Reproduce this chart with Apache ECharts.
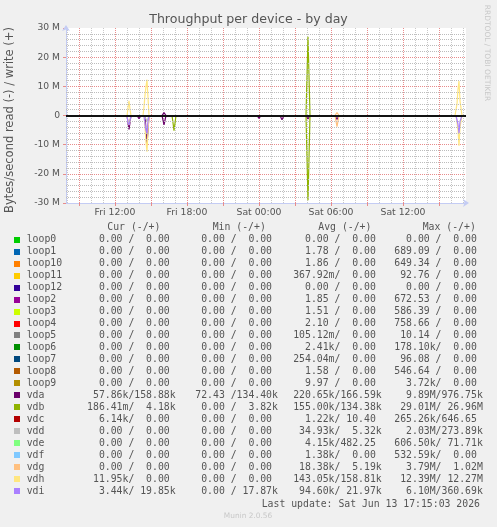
<!DOCTYPE html>
<html><head><meta charset="utf-8">
<script src="https://cdn.jsdelivr.net/npm/echarts@6/dist/echarts.min.js"></script>
<style>html,body{margin:0;padding:0;background:#F0F0F0;}#c{width:497px;height:527px;}</style>
</head><body><div id="c"></div>
<script>
// ---- data ----
const devices = ['loop0','loop1','loop10','loop11','loop12','loop2','loop3','loop4','loop5','loop6','loop7','loop8','loop9','vda','vdb','vdc','vdd','vde','vdf','vdg','vdh','vdi'];
const palette = ['#00CC00','#0066B3','#FF8000','#FFCC00','#330099','#990099','#CCFF00','#FF0000','#808080','#008F00','#00487D','#B35A00','#B38F00','#6B006B','#8FB300','#B30000','#BEBEBE','#80FF80','#80C9FF','#FFC080','#FFE680','#AA80FF'];
// time = minutes since Fri 00:00; values in MB/s
const timeRange = [475, 2475];
const readData = {
  vda: [[780,0],[790,4.8],[800,0],[830,0],[840,1.1],[850,0],[870,0],[880,9.89],[890,0],[925,0],[930,0.6],[935,0],[955,0],[965,3.2],[975,0],[1430,0],[1440,1.0],[1450,0],[1545,0],[1555,1.5],[1565,0],[1675,0],[1685,1.2],[1695,0],[1820,0],[1830,1.4],[1840,0]],
  vdb: [[1005,0],[1010,2.5],[1015,5.2],[1025,0],[1675,0],[1685,29.01],[1695,0]],
  vdc: [[870,0],[880,0.27],[890,0]],
  vdd: [[865,0],[875,1.2],[880,2.03],[890,0]],
  vdg: [[1820,0],[1830,3.79],[1840,0]],
  vdh: [[780,0],[785,2.0],[790,3.3],[795,1.5],[800,0],[865,0],[870,4],[875,9],[880,12.39],[885,5],[890,0],[2425,0],[2435,5],[2440,10.4],[2445,4],[2455,0]],
  vdi: [[780,0],[785,2.5],[790,3.2],[800,0],[865,0],[870,3],[875,5],[880,6.1],[885,2],[890,0],[2425,0],[2435,3],[2440,6.0],[2445,2],[2455,0]]
};
const writeData = {
  vda: [[955,0],[965,0.98],[975,0],[1545,0],[1555,0.5],[1565,0],[1820,0],[1830,0.3],[1840,0]],
  vdb: [[1675,0],[1685,26.96],[1695,0]],
  vdd: [[870,0],[880,0.27],[890,0]],
  vdg: [[1820,0],[1830,1.02],[1840,0]],
  vdh: [[780,0],[785,2.5],[790,5.0],[795,2.0],[800,0],[860,0],[865,3],[870,7],[875,10],[880,12.27],[885,6],[890,0],
        [1140,0],[1145,0.35],[1150,0],[1225,0],[1230,0.35],[1235,0],[1340,0],[1345,0.35],[1350,0],[1865,0],[1870,0.35],[1875,0],
        [1915,0],[1920,0.35],[1925,0],[2015,0],[2020,0.35],[2025,0],[2090,0],[2095,0.35],[2100,0],[2240,0],[2245,0.35],[2250,0],
        [2420,0],[2430,4],[2435,9],[2440,11.8],[2445,5],[2455,0]],
  vdi: [[870,0],[880,0.36],[890,0]]
};
const curCol = ['  0.00 /  0.00 ','  0.00 /  0.00 ','  0.00 /  0.00 ','  0.00 /  0.00 ','  0.00 /  0.00 ','  0.00 /  0.00 ','  0.00 /  0.00 ','  0.00 /  0.00 ','  0.00 /  0.00 ','  0.00 /  0.00 ','  0.00 /  0.00 ','  0.00 /  0.00 ','  0.00 /  0.00 ',
  ' 57.86k/158.88k','186.41m/  4.18k','  6.14k/  0.00 ','  0.00 /  0.00 ','  0.00 /  0.00 ','  0.00 /  0.00 ','  0.00 /  0.00 ',' 11.95k/  0.00 ','  3.44k/ 19.85k'];
const minCol = ['  0.00 /  0.00 ','  0.00 /  0.00 ','  0.00 /  0.00 ','  0.00 /  0.00 ','  0.00 /  0.00 ','  0.00 /  0.00 ','  0.00 /  0.00 ','  0.00 /  0.00 ','  0.00 /  0.00 ','  0.00 /  0.00 ','  0.00 /  0.00 ','  0.00 /  0.00 ','  0.00 /  0.00 ',
  ' 72.43 /134.40k','  0.00 /  3.82k','  0.00 /  0.00 ','  0.00 /  0.00 ','  0.00 /  0.00 ','  0.00 /  0.00 ','  0.00 /  0.00 ','  0.00 /  0.00 ','  0.00 / 17.87k'];
const avgCol = ['  0.00 /  0.00 ','  1.78 /  0.00 ','  1.86 /  0.00 ','367.92m/  0.00 ','  0.00 /  0.00 ','  1.85 /  0.00 ','  1.51 /  0.00 ','  2.10 /  0.00 ','105.12m/  0.00 ','  2.41k/  0.00 ','254.04m/  0.00 ','  1.58 /  0.00 ','  9.97 /  0.00 ',
  '220.65k/166.59k','155.00k/134.38k','  1.22k/ 10.40 ',' 34.93k/  5.32k','  4.15k/482.25 ','  1.38k/  0.00 ',' 18.38k/  5.19k','143.05k/158.81k',' 94.60k/ 21.97k'];
const maxCol = ['  0.00 /  0.00 ','689.09 /  0.00 ','649.34 /  0.00 ',' 92.76 /  0.00 ','  0.00 /  0.00 ','672.53 /  0.00 ','586.39 /  0.00 ','758.66 /  0.00 ',' 10.14 /  0.00 ','178.10k/  0.00 ',' 96.08 /  0.00 ','546.64 /  0.00 ','  3.72k/  0.00 ',
  '  9.89M/976.75k',' 29.01M/ 26.96M','265.26k/646.65 ','  2.03M/273.89k','606.50k/ 71.71k','532.59k/  0.00 ','  3.79M/  1.02M',' 12.39M/ 12.27M','  6.10M/360.69k'];
const colHeaders = ['Cur (-/+)','Min (-/+)','Avg (-/+)','Max (-/+)'];
const xLabelTimes = [720,1080,1440,1800,2160];
const xLabelTexts = ['Fri 12:00','Fri 18:00','Sat 00:00','Sat 06:00','Sat 12:00'];
const yTickValues = [-30,-20,-10,0,10,20,30];
const yTickTexts = ['-30 M','-20 M','-10 M','0','10 M','20 M','30 M'];
const yMinorValues = [-28,-26,-24,-22,-18,-16,-14,-12,-8,-6,-4,-2,2,4,6,8,12,14,16,18,22,24,26,28];
const titleText = 'Throughput per device - by day';
const yAxisTitle = 'Bytes/second read (-) / write (+)';
const lastUpdate = 'Last update: Sat Jun 13 17:15:03 2026';

// ---- build ----
const FONT = '#555';
const AXIS = '#C4CCF4', RED = '#E88C8C', GREY = '#C8C8C8', GREY_H = '#BCBCBC';
const series = [];
// minor horizontal grid lines (2 M steps) under the data
series.push({
  type: 'line', xAxisIndex: 1, yAxisIndex: 1, data: [], z: 1, silent: true,
  markLine: {silent: true, symbol: 'none', label: {show: false}, animation: false,
    lineStyle: {color: GREY_H, width: 1, type: [1, 1]}, data: yMinorValues.map(v => ({yAxis: v}))}
});
devices.forEach((d, i) => {
  const r = (readData[d] || []).map(p => [p[0], -p[1]]);
  const w = (writeData[d] || []).slice();
  [r, w].forEach(pts => {
    series.push({
      type: 'line', name: d, xAxisIndex: 1, yAxisIndex: 1,
      data: [[timeRange[0], 0]].concat(pts, [[timeRange[1], 0]]),
      showSymbol: false, symbol: 'none', silent: true, z: 2,
      lineStyle: {color: palette[i], width: 1.2}, itemStyle: {color: palette[i]}
    });
  });
});
series.push({
  type: 'line', xAxisIndex: 1, yAxisIndex: 1, data: [], z: 5, silent: true,
  markLine: {silent: true, symbol: 'none', label: {show: false}, animation: false,
    lineStyle: {color: '#111', width: 2, type: 'solid'}, data: [{yAxis: 0}]}
});

const graphics = [];
graphics.push({type: 'text', x: 248.5, y: 19.5, style: {text: titleText, fontFamily: 'DejaVu Sans', fontSize: 12.6, fill: FONT, align: 'center', verticalAlign: 'middle'}});
graphics.push({type: 'text', x: 10, y: 120, rotation: Math.PI / 2, style: {text: yAxisTitle, fontFamily: 'DejaVu Sans', fontSize: 11.5, fill: FONT, align: 'center', verticalAlign: 'middle'}});
graphics.push({type: 'text', x: 487, y: 53, rotation: -Math.PI / 2, style: {text: 'RRDTOOL / TOBI OETIKER', fontFamily: 'DejaVu Sans', fontSize: 7.5, fill: '#C8C8C8', align: 'center', verticalAlign: 'middle'}});
const mono = 'DejaVu Sans Mono', MS = 9.8;
const headX = [107.3, 212.7, 318.3, 422.7];
colHeaders.forEach((h, k) => graphics.push({type: 'text', x: headX[k], y: 227.7, style: {text: h, fontFamily: mono, fontSize: MS, fill: FONT, verticalAlign: 'middle'}}));
const colX = [87.1, 189.4, 293.2, 394.3];
const cols = [curCol, minCol, avgCol, maxCol];
devices.forEach((d, i) => {
  const cy = 239.8 + i * 11.96;
  graphics.push({type: 'rect', shape: {x: 14, y: Math.round(cy) - 3, width: 6, height: 6}, style: {fill: palette[i]}});
  graphics.push({type: 'text', x: 26.7, y: cy, style: {text: d, fontFamily: mono, fontSize: MS, fill: FONT, verticalAlign: 'middle'}});
  cols.forEach((c, k) => graphics.push({type: 'text', x: colX[k], y: cy, style: {text: c[i], fontFamily: mono, fontSize: MS, fill: FONT, verticalAlign: 'middle'}}));
});
graphics.push({type: 'text', x: 261.7, y: 504.3, style: {text: lastUpdate, fontFamily: mono, fontSize: MS, fill: FONT, verticalAlign: 'middle'}});
graphics.push({type: 'text', x: 248, y: 516, style: {text: 'Munin 2.0.56', fontFamily: 'DejaVu Sans', fontSize: 7.4, fill: '#C8C8C8', align: 'center', verticalAlign: 'middle'}});

const option = {
  animation: false,
  backgroundColor: '#F0F0F0',
  grid: {left: 66, top: 28, width: 400, height: 175, show: true, backgroundColor: '#FFFFFF', borderWidth: 0},
  xAxis: [
    { // minor hourly grid
      type: 'value', gridIndex: 0, position: 'top', min: timeRange[0], max: timeRange[1],
      minInterval: 60, maxInterval: 60,
      axisLine: {show: false}, axisTick: {show: false}, axisLabel: {show: false},
      splitLine: {show: true, showMinLine: false, showMaxLine: false, lineStyle: {color: GREY, width: 1, type: [1, 1]}}
    },
    { // major 3-hourly grid + labels
      type: 'value', gridIndex: 0, position: 'bottom', min: timeRange[0], max: timeRange[1],
      minInterval: 180, maxInterval: 180,
      axisLine: {show: true, onZero: false, lineStyle: {color: AXIS, width: 1}, symbol: ['none', 'arrow'], symbolSize: [6, 6], symbolOffset: [0, 3]},
      axisTick: {show: true, length: 3, lineStyle: {color: RED}},
      axisLabel: {show: true, margin: 5, fontFamily: 'DejaVu Sans', fontSize: 9.3, color: FONT, showMinLabel: false, showMaxLabel: false,
        formatter: v => { const k = xLabelTimes.indexOf(Math.round(v)); return k >= 0 ? xLabelTexts[k] : ''; }},
      splitLine: {show: true, showMinLine: false, showMaxLine: false, lineStyle: {color: RED, width: 1, type: [1, 1]}}
    }
  ],
  yAxis: [
    {
      type: 'value', gridIndex: 0, position: 'right', min: -30, max: 30, interval: 10, show: false
    },
    {
      type: 'value', gridIndex: 0, position: 'left', min: -30, max: 30, interval: 10,
      axisLine: {show: true, onZero: false, lineStyle: {color: AXIS, width: 1}, symbol: ['none', 'arrow'], symbolSize: [6, 6], symbolOffset: [0, 3]},
      axisTick: {show: true, length: 3, lineStyle: {color: RED}},
      axisLabel: {margin: 6, fontFamily: 'DejaVu Sans', fontSize: 9.2, color: FONT,
        formatter: v => { const k = yTickValues.indexOf(Math.round(v)); return k >= 0 ? yTickTexts[k] : ''; }},
      splitLine: {show: true, showMinLine: false, showMaxLine: false, lineStyle: {color: RED, width: 1, type: [1, 1]}}
    }
  ],
  series: series,
  graphic: {elements: graphics}
};
const chart = echarts.init(document.getElementById('c'), null, {renderer: 'canvas'});
chart.setOption(option);
</script></body></html>
